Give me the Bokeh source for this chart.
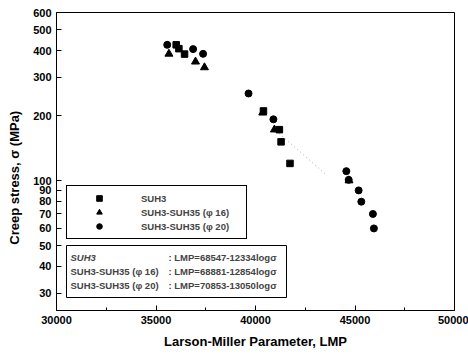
import numpy as np
from bokeh.plotting import figure
from bokeh.models import (FixedTicker, Legend, LegendItem, Label, BoxAnnotation)
from bokeh.embed import file_html
from bokeh.resources import INLINE

# ---- data ----
suh3_lmp = [36015, 36150, 36435, 40400, 41200, 41285, 41733]
suh3_sig = [425, 408, 385, 210, 172, 151, 120]

phi16_lmp = [35650, 36985, 37435, 40365, 40950, 44700]
phi16_sig = [386, 355, 334, 206, 172, 100]

phi20_lmp = [35565, 36865, 37365, 39650, 40900, 44565, 44683, 45183, 45317, 45900, 45950]
phi20_sig = [425, 406, 386, 253, 192, 110.5, 100.7, 90, 79.8, 70, 60]

series_names = ["SUH3", "SUH3-SUH35 (\u03c6 16)", "SUH3-SUH35 (\u03c6 20)"]
fit_A = [68547, 68881, 70853]
fit_B = [12334, 12854, 13050]
fit_visible_sigma = [165, 105]   # visible part of the SUH3 dotted fit line

x_ticks = [30000, 35000, 40000, 45000, 50000]
x_minor = [32500, 37500, 42500, 47500]
y_ticks = [30, 40, 50, 60, 70, 80, 90, 100, 200, 300, 400, 500, 600]

FONT = "Liberation Sans"

p = figure(width=468, height=356, output_backend="svg", toolbar_location=None,
           x_range=(30000, 50000), y_range=(25, 600), y_axis_type="log",
           min_border_left=56, min_border_right=14, min_border_top=12,
           min_border_bottom=46)
p.xgrid.visible = False
p.ygrid.visible = False
p.outline_line_color = "black"
p.outline_line_alpha = 1
p.outline_line_width = 1
p.background_fill_color = "white"
p.border_fill_color = "white"

# axes
xa = p.xaxis[0]
xa.ticker = FixedTicker(ticks=x_ticks, minor_ticks=x_minor)
xa.axis_label = "Larson-Miller Parameter, LMP"
ya = p.yaxis[0]
ya.ticker = FixedTicker(ticks=y_ticks, minor_ticks=[])
ya.axis_label = "Creep stress,  \u03c3 (MPa)\u00a0\u00a0\u00a0\u00a0\u00a0\u00a0\u00a0\u00a0"
ya.major_label_overrides = {t: str(t) for t in y_ticks}
for ax in (xa, ya):
    ax.axis_line_color = "black"
    ax.major_tick_in = 5
    ax.major_tick_out = 0
    ax.minor_tick_in = 3
    ax.minor_tick_out = 0
    ax.major_tick_line_color = "black"
    ax.minor_tick_line_color = "black"
    ax.major_label_text_font = FONT
    ax.major_label_text_font_style = "bold"
    ax.major_label_text_font_size = "11px"
    ax.major_label_text_color = "black"
    ax.axis_label_text_font = FONT
    ax.axis_label_text_font_style = "bold"
    ax.axis_label_text_font_size = "13px"
    ax.axis_label_text_color = "black"
    ax.major_label_standoff = 5
xa.axis_label_standoff = 7
ya.axis_label_standoff = 8

# dotted fit line (SUH3)
fs = np.array(fit_visible_sigma, dtype=float)
fit_x = fit_A[0] - fit_B[0] * np.log10(fs)
p.line(fit_x, fs, line_color="#aaaaaa", line_dash="1 3", line_width=1)

r1 = p.scatter(suh3_lmp, suh3_sig, marker="square", size=6.5, fill_color="black",
               line_color="black")
r2 = p.scatter(phi16_lmp, phi16_sig, marker="triangle", size=8, fill_color="black",
               line_color="black")
r3 = p.scatter(phi20_lmp, phi20_sig, marker="circle", size=7, fill_color="black",
               line_color="black")

legend = Legend(items=[LegendItem(label=series_names[0], renderers=[r1]),
                       LegendItem(label=series_names[1], renderers=[r2]),
                       LegendItem(label=series_names[2], renderers=[r3])],
                location=(10, 71), padding=5, spacing=0,
                label_height=14, glyph_height=14, glyph_width=54,
                label_standoff=15, label_width=100,
                border_line_color="black", border_line_width=1,
                border_line_alpha=1,
                background_fill_alpha=1, background_fill_color="white",
                label_text_font=FONT, label_text_font_style="bold",
                label_text_font_size="9.5px", margin=0)
p.add_layout(legend, "center")

# equations box
box = BoxAnnotation(left=10, right=230, bottom=13, top=65,
                    left_units="screen", right_units="screen",
                    bottom_units="screen", top_units="screen",
                    fill_color="white", fill_alpha=1, line_color="black",
                    line_alpha=1, line_width=1, level="annotation")
p.add_layout(box)
row_y = [53, 39, 25]
for i in range(3):
    eq = "LMP=%d-%dlog\u03c3" % (fit_A[i], fit_B[i])
    p.add_layout(Label(x=14, y=row_y[i], x_units="screen", y_units="screen",
                       text=series_names[i], text_font=FONT,
                       text_font_style="bold italic" if i == 0 else "bold",
                       text_font_size="9.5px", text_baseline="middle",
                       level="annotation"))
    p.add_layout(Label(x=112, y=row_y[i], x_units="screen", y_units="screen",
                       text=": " + eq, text_font=FONT, text_font_style="bold",
                       text_font_size="9.5px", text_baseline="middle",
                       level="annotation"))

open("out.html", "w").write(file_html(p, INLINE))
